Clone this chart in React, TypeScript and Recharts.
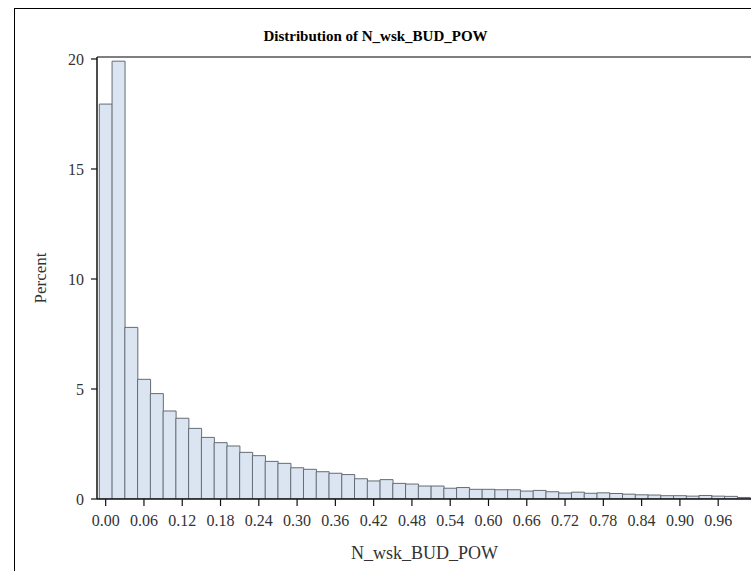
import React from 'react';
import { BarChart, Bar, XAxis, YAxis, ReferenceLine, Label } from 'recharts';

const binMidpoints = [
  0.0, 0.02, 0.04, 0.06, 0.08, 0.1, 0.12, 0.14, 0.16, 0.18,
  0.2, 0.22, 0.24, 0.26, 0.28, 0.3, 0.32, 0.34, 0.36, 0.38,
  0.4, 0.42, 0.44, 0.46, 0.48, 0.5, 0.52, 0.54, 0.56, 0.58,
  0.6, 0.62, 0.64, 0.66, 0.68, 0.7, 0.72, 0.74, 0.76, 0.78,
  0.8, 0.82, 0.84, 0.86, 0.88, 0.9, 0.92, 0.94, 0.96, 0.98, 1.0,
];

const percentValues = [
  17.95, 19.9, 7.8, 5.44, 4.79, 4.0, 3.67, 3.21, 2.8, 2.56,
  2.41, 2.12, 1.97, 1.71, 1.62, 1.42, 1.35, 1.24, 1.17, 1.11,
  0.92, 0.82, 0.88, 0.71, 0.68, 0.59, 0.59, 0.49, 0.52, 0.44,
  0.44, 0.42, 0.42, 0.36, 0.39, 0.33, 0.27, 0.31, 0.26, 0.28,
  0.25, 0.22, 0.19, 0.18, 0.15, 0.15, 0.13, 0.16, 0.13, 0.12, 0.07,
];

const xTicks = [0, 0.06, 0.12, 0.18, 0.24, 0.3, 0.36, 0.42, 0.48, 0.54, 0.6, 0.66, 0.72, 0.78, 0.84, 0.9, 0.96];
const yTicks = [0, 5, 10, 15, 20];

const xDomain: [number, number] = [-0.0136, 1.013];
const yMax = 20.09;

const title = 'Distribution of N_wsk_BUD_POW';
const xLabel = 'N_wsk_BUD_POW';
const yLabel = 'Percent';

const data = binMidpoints.map((x, i) => ({ x, pct: percentValues[i] }));

const FONT = '"Liberation Serif", "Times New Roman", serif';

export default function App() {
  return (
    <div
      style={{
        position: 'absolute',
        left: 0,
        top: 0,
        width: 751,
        height: 571,
        overflow: 'hidden',
        background: '#fff',
      }}
    >
      <div
        style={{
          position: 'absolute',
          left: 14,
          top: 8,
          width: 800,
          height: 700,
          border: '1.5px solid #000',
          boxSizing: 'border-box',
        }}
      />
      <div
        style={{
          position: 'absolute',
          left: 0,
          top: 27,
          width: 751,
          textAlign: 'center',
          fontFamily: FONT,
          fontWeight: 'bold',
          fontSize: 15,
          color: '#000',
          lineHeight: '18px',
        }}
      >
        {title}
      </div>
      <div style={{ position: 'absolute', left: 0, top: 0 }}>
        <BarChart
          width={760}
          height={571}
          data={data}
          margin={{ top: 57, right: 8, bottom: 0, left: 0 }}
          barCategoryGap={0}
          barGap={0}
        >
          <XAxis
            dataKey="x"
            type="number"
            domain={xDomain}
            allowDataOverflow
            ticks={xTicks}
            interval={0}
            tickFormatter={(v: number) => v.toFixed(2)}
            height={72}
            tickSize={7}
            tickMargin={9}
            axisLine={{ stroke: '#111', strokeWidth: 1.5 }}
            tickLine={{ stroke: '#111', strokeWidth: 1.2 }}
            tick={{ fill: '#333', fontFamily: FONT, fontSize: 16 }}
          >
            <Label
              value={xLabel}
              position="insideBottom"
              offset={12}
              style={{ fill: '#333', fontFamily: FONT, fontSize: 18 }}
            />
          </XAxis>
          <YAxis
            type="number"
            domain={[0, yMax]}
            allowDataOverflow
            ticks={yTicks}
            interval={0}
            width={97}
            tickSize={6}
            tickMargin={7}
            axisLine={{ stroke: '#111', strokeWidth: 1.5 }}
            tickLine={{ stroke: '#111', strokeWidth: 1.2 }}
            tick={{ fill: '#333', fontFamily: FONT, fontSize: 16 }}
          >
            <Label
              content={(props: any) => {
                const vb = props.viewBox || { x: 0, y: 0, width: 0, height: 0 };
                const cx = vb.x + 40;
                const cy = vb.y + vb.height / 2;
                return (
                  <text
                    x={cx}
                    y={cy}
                    transform={`rotate(-90, ${cx}, ${cy})`}
                    textAnchor="middle"
                    dominantBaseline="central"
                    fill="#333"
                    fontFamily={FONT}
                    fontSize={17}
                  >
                    {yLabel}
                  </text>
                );
              }}
            />
          </YAxis>
          <ReferenceLine y={yMax} stroke="#555" strokeWidth={1.5} ifOverflow="extendDomain" />
          <Bar
            dataKey="pct"
            fill="#dbe5f1"
            stroke="#646b74"
            strokeWidth={1}
            isAnimationActive={false}
          />
        </BarChart>
      </div>
    </div>
  );
}
